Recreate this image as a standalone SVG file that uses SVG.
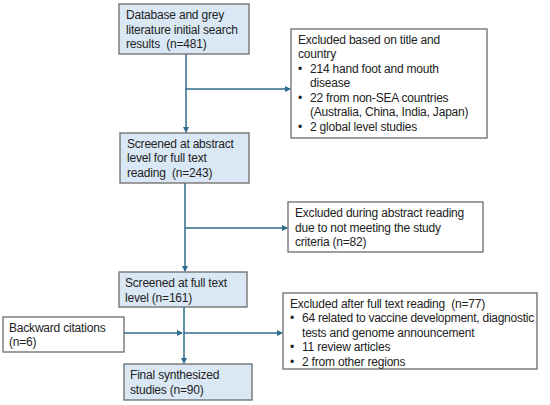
<svg xmlns="http://www.w3.org/2000/svg" width="550" height="405" viewBox="0 0 550 405">
<style>
.blue{fill:#dae8f5;stroke:#6b6b6b;stroke-width:1.3}
.white{fill:#ffffff;stroke:#6b6b6b;stroke-width:1.3}
text{font-family:"Liberation Sans",Arial,sans-serif;font-size:12px;letter-spacing:-0.2px;fill:#222;white-space:pre}
.conn{stroke:#2f6d8c;stroke-width:1.5;fill:none}
</style>
<defs>
<marker id="ah" markerWidth="6" markerHeight="6" refX="5" refY="3" orient="auto" markerUnits="userSpaceOnUse">
<path d="M0,0 L6,3 L0,6 z" fill="#2f6d8c"/>
</marker>
</defs>
<rect width="550" height="405" fill="#ffffff"/>
<g id="connectors">
<line class="conn" x1="186" y1="54" x2="186" y2="132" marker-end="url(#ah)"/>
<line class="conn" x1="186" y1="89" x2="290" y2="89" marker-end="url(#ah)"/>
<line class="conn" x1="185" y1="183" x2="185" y2="271" marker-end="url(#ah)"/>
<line class="conn" x1="185" y1="228" x2="287" y2="228" marker-end="url(#ah)"/>
<line class="conn" x1="184" y1="307" x2="184" y2="363" marker-end="url(#ah)"/>
<line class="conn" x1="124" y1="333" x2="182" y2="333" marker-end="url(#ah)"/>
<line class="conn" x1="184" y1="333" x2="282" y2="333" marker-end="url(#ah)"/>
</g>
<g id="n1">
<rect class="blue" x="119" y="4" width="130" height="50"/>
<text x="126" y="19">Database and grey</text>
<text x="126" y="33.5">literature initial search</text>
<text x="126" y="48">results  (n=481)</text>
</g>
<g id="n2">
<rect class="white" x="291" y="29" width="196" height="109"/>
<text x="298" y="43.5">Excluded based on title and</text>
<text x="298" y="58">country</text>
<text x="298" y="72.5">•</text><text x="310" y="72.5">214 hand foot and mouth</text>
<text x="310" y="87">disease</text>
<text x="298" y="101.5">•</text><text x="310" y="101.5">22 from non-SEA countries</text>
<text x="310" y="116">(Australia, China, India, Japan)</text>
<text x="298" y="130.5">•</text><text x="310" y="130.5">2 global level studies</text>
</g>
<g id="n3">
<rect class="blue" x="120" y="133" width="129" height="50"/>
<text x="127" y="147.5">Screened at abstract</text>
<text x="127" y="162">level for full text</text>
<text x="127" y="176.5">reading  (n=243)</text>
</g>
<g id="n4">
<rect class="white" x="288" y="202" width="195" height="50"/>
<text x="295" y="217">Excluded during abstract reading</text>
<text x="295" y="231.5">due to not meeting the study</text>
<text x="295" y="246">criteria (n=82)</text>
</g>
<g id="n5">
<rect class="blue" x="119" y="272" width="128" height="35"/>
<text x="125" y="287">Screened at full text</text>
<text x="125" y="301.5">level (n=161)</text>
</g>
<g id="n6">
<rect class="white" x="3" y="317" width="121" height="35"/>
<text x="9" y="331.5">Backward citations</text>
<text x="9" y="346">(n=6)</text>
</g>
<g id="n7">
<rect class="white" x="283" y="293" width="254" height="76"/>
<text x="290" y="307.5">Excluded after full text reading  (n=77)</text>
<text x="290" y="322">•</text><text x="302" y="322" textLength="232" lengthAdjust="spacing">64 related to vaccine development, diagnostic</text>
<text x="302" y="336.5">tests and genome announcement</text>
<text x="290" y="351">•</text><text x="302" y="351">11 review articles</text>
<text x="290" y="365.5">•</text><text x="302" y="365.5">2 from other regions</text>
</g>
<g id="n8">
<rect class="blue" x="124" y="364" width="128" height="36"/>
<text x="130" y="379">Final synthesized</text>
<text x="130" y="393.5">studies (n=90)</text>
</g>
</svg>
